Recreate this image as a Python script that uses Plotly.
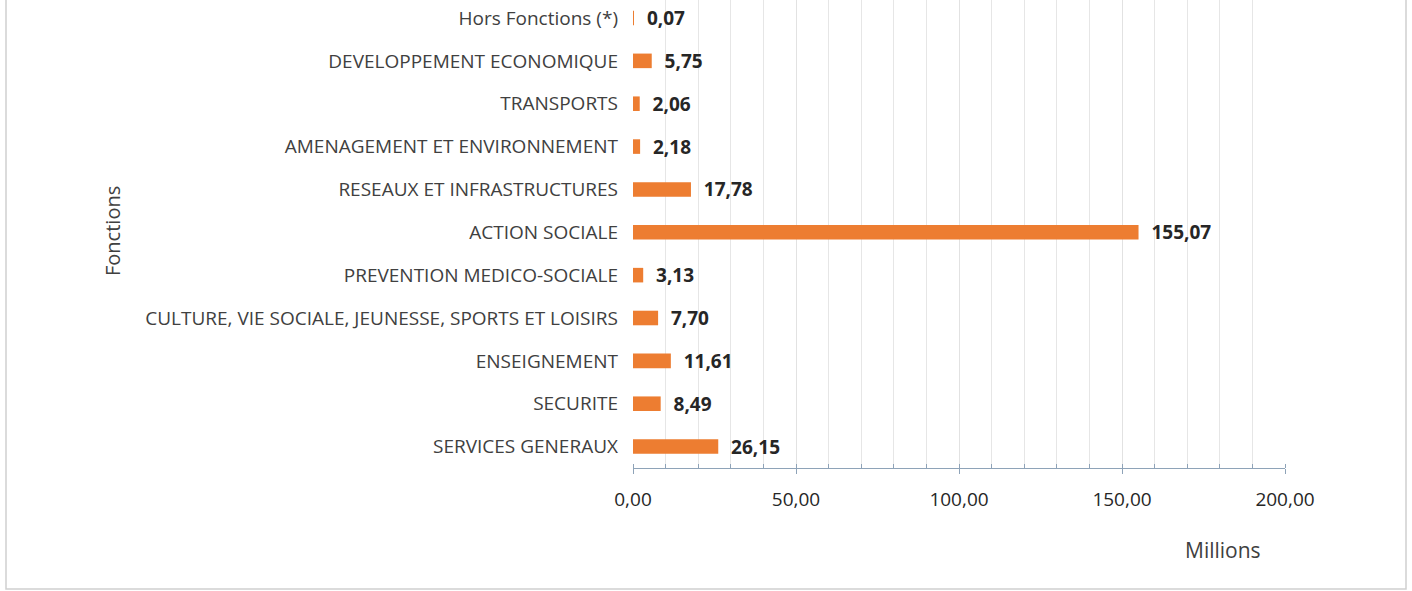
import plotly.graph_objects as go

categories = [
    "SERVICES GENERAUX",
    "SECURITE",
    "ENSEIGNEMENT",
    "CULTURE, VIE SOCIALE, JEUNESSE, SPORTS ET LOISIRS",
    "PREVENTION MEDICO-SOCIALE",
    "ACTION SOCIALE",
    "RESEAUX ET INFRASTRUCTURES",
    "AMENAGEMENT ET ENVIRONNEMENT",
    "TRANSPORTS",
    "DEVELOPPEMENT ECONOMIQUE",
    "Hors Fonctions (*)",
]
values = [26.15, 8.49, 11.61, 7.70, 3.13, 155.07, 17.78, 2.18, 2.06, 5.75, 0.07]
labels = ["\u00a0\u00a0" + f"{v:.2f}".replace(".", ",") for v in values]

x_ticks = [0, 50, 100, 150, 200]
x_ticktext = [f"{t:.2f}".replace(".", ",") for t in x_ticks]

W, H = 1412, 591
L, R, T, B = 633, 127, 0, 123
pw, ph = W - L - R, H - T - B

def px_x(p):
    return (p - L) / pw

def px_y(p):
    return (H - B - p) / ph

fig = go.Figure(go.Bar(
    y=categories, x=values, orientation="h",
    marker=dict(color="#ED7D31", line=dict(width=0)),
    width=0.34,
    text=labels, textposition="outside", cliponaxis=False, constraintext="none",
    textfont=dict(family="Open Sans", size=19, color="#262626", weight="bold"),
))

fig.update_layout(
    width=W, height=H,
    margin=dict(l=L, r=R, t=T, b=B),
    paper_bgcolor="white", plot_bgcolor="white",
    showlegend=False,
    font=dict(family="Open Sans", color="#404040"),
    xaxis=dict(
        range=[0, 200], tickvals=x_ticks, ticktext=x_ticktext,
        showgrid=True, gridcolor="#E2E2E2", gridwidth=1,
        showline=True, linecolor="#8EA3B8", linewidth=1,
        ticks="outside", ticklen=5, tickcolor="#8EA3B8",
        tickfont=dict(size=19, color="#262626"), ticklabelstandoff=9,
        minor=dict(dtick=10, showgrid=True, gridcolor="#E6E6E6",
                   ticks="inside", ticklen=4, tickcolor="#8EA3B8"),
        zeroline=False, fixedrange=True,
    ),
    yaxis=dict(
        range=[-0.5, 10.42], showgrid=False, showline=False, ticks="",
        tickfont=dict(size=19, color="#404040"), ticklabelstandoff=14,
        fixedrange=True,
    ),
    annotations=[
        dict(text="Fonctions", textangle=-90, xref="paper", yref="paper",
             x=px_x(112), y=px_y(231), showarrow=False,
             font=dict(size=20, color="#404040"), xanchor="center", yanchor="middle"),
        dict(text="Millions", xref="paper", yref="paper",
             x=px_x(1223), y=px_y(550), showarrow=False,
             font=dict(size=21, color="#404040"), xanchor="center", yanchor="middle"),
    ],
    shapes=[
        dict(type="rect", xref="paper", yref="paper",
             x0=px_x(6), x1=px_x(1406), y0=px_y(589), y1=px_y(-10),
             line=dict(color="#D0D0D0", width=1.5), layer="below"),
    ],
)

fig.write_html("out.html", config={"displayModeBar": False},
               post_script="document.body.style.margin='0';document.body.style.overflow='hidden';")
